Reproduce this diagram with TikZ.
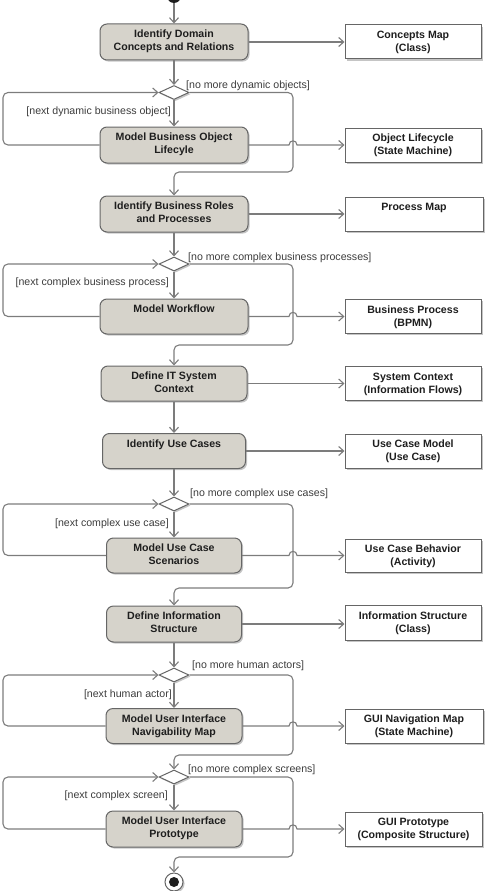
\documentclass[tikz,border=0pt]{standalone}
\usepackage{fontspec}
\setmainfont{Liberation Sans}
\usetikzlibrary{arrows.meta,shapes.geometric,shadows}
\definecolor{ln}{HTML}{7C7C7C}
\definecolor{bd}{HTML}{666666}
\definecolor{actfill}{HTML}{D6D3CB}
\definecolor{txt}{HTML}{1E1E1E}
\definecolor{gtxt}{HTML}{3C3C3C}
\newcommand{\tbox}[3]{\parbox[c][#2][t]{#1}{\centering\rule{0pt}{13.5pt}#3}}
\tikzset{
  shade1/.style={drop shadow={shadow xshift=1.6pt,shadow yshift=-1.6pt,fill=black!45,opacity=.5}},
  actbox/.style={draw=bd,line width=1pt,fill=actfill,rounded corners=7pt,inner sep=0pt,
    font=\fontsize{10.6}{13}\selectfont\bfseries,text=txt,shade1},
  artbox/.style={draw=bd,line width=1pt,fill=white,inner sep=0pt,
    font=\fontsize{10.6}{13}\selectfont\bfseries,text=txt,shade1},
  dec/.style={draw=bd,line width=1pt,fill=white,diamond,minimum width=30pt,minimum height=14pt,inner sep=0pt,shade1},
  flow/.style={draw=ln,line width=1.1pt,-{Straight Barb[length=5pt,width=9pt]}},
  loopflow/.style={flow,rounded corners=5pt},
  guardR/.style={font=\fontsize{10.6}{12}\selectfont,text=gtxt,inner sep=0pt,anchor=west},
  guardL/.style={font=\fontsize{10.6}{12}\selectfont,text=gtxt,inner sep=0pt,anchor=east},
}
\begin{document}
\begin{tikzpicture}[x=1pt,y=-1pt]
\useasboundingbox (0,0) rectangle (489,891);

% activities
\node[actbox] (b1) at (174,42) {\tbox{148pt}{36pt}{Identify Domain\\Concepts and Relations}};
\node[actbox] (b2) at (174,145) {\tbox{148pt}{36pt}{Model Business Object\\Lifecyle}};
\node[actbox] (b3) at (174,214) {\tbox{148pt}{36pt}{Identify Business Roles\\and Processes}};
\node[actbox] (b4) at (174,316.5) {\tbox{148pt}{35pt}{Model Workflow}};
\node[actbox] (b5) at (174,383.5) {\tbox{146pt}{35pt}{Define IT System\\Context}};
\node[actbox] (b6) at (174,451) {\tbox{143pt}{35pt}{Identify Use Cases}};
\node[actbox] (b7) at (174,555.5) {\tbox{135pt}{35pt}{Model Use Case\\Scenarios}};
\node[actbox] (b8) at (174,624) {\tbox{135pt}{36pt}{Define Information\\Structure}};
\node[actbox] (b9) at (174,726) {\tbox{136pt}{35pt}{Model User Interface\\Navigability Map}};
\node[actbox] (b10) at (174,829) {\tbox{136pt}{36pt}{Model User Interface\\Prototype}};

% artifacts
\node[artbox] (r1) at (413,42) {\tbox{136pt}{34pt}{Concepts Map\\(Class)}};
\node[artbox] (r2) at (413,145) {\tbox{136pt}{34pt}{Object Lifecycle\\(State Machine)}};
\node[artbox] (r3) at (414,214) {\tbox{138pt}{34pt}{Process Map}};
\node[artbox] (r4) at (413,316.5) {\tbox{136pt}{34pt}{Business Process\\(BPMN)}};
\node[artbox] (r5) at (413,383.5) {\tbox{136pt}{34pt}{System Context\\(Information Flows)}};
\node[artbox] (r6) at (413,451) {\tbox{136pt}{34pt}{Use Case Model\\(Use Case)}};
\node[artbox] (r7) at (413,555.5) {\tbox{136pt}{33pt}{Use Case Behavior\\(Activity)}};
\node[artbox] (r8) at (413,623) {\tbox{136pt}{35pt}{Information Structure\\(Class)}};
\node[artbox] (r9) at (414,726) {\tbox{138pt}{34pt}{GUI Navigation Map\\(State Machine)}};
\node[artbox] (r10) at (413.5,829) {\tbox{137pt}{34pt}{GUI Prototype\\(Composite Structure)}};

% decisions
\node[dec] (d1) at (174,92.5) {};
\node[dec] (d2) at (174,264) {};
\node[dec] (d3) at (174,504) {};
\node[dec] (d4) at (174,675) {};
\node[dec] (d5) at (174,777) {};

% initial and final
\node[circle,fill=txt,minimum size=14pt,inner sep=0pt] (init) at (174,-4) {};
\node[circle,draw=bd,line width=1pt,fill=white,minimum size=18pt,inner sep=0pt,shade1] (fin) at (174,882) {};
\node[circle,fill=txt,minimum size=10pt,inner sep=0pt] (finc) at (fin.center) {};

% guards
\node[guardR] (g1) at (186,86) {[no more dynamic objects]};
\node[guardL] (g2) at (171,112) {[next dynamic business object]};
\node[guardR] (g3) at (188,258) {[no more complex business processes]};
\node[guardL] (g4) at (169,283) {[next complex business process]};
\node[guardR] (g5) at (190,494) {[no more complex use cases]};
\node[guardL] (g6) at (169,524) {[next complex use case]};
\node[guardR] (g7) at (192,666) {[no more human actors]};
\node[guardL] (g8) at (172,695) {[next human actor]};
\node[guardR] (g9) at (188,770) {[no more complex screens]};
\node[guardL] (g10) at (168,796) {[next complex screen]};

% main flow
\draw[flow] (init) -- (b1.north);
\draw[flow] (b1.south) -- (d1.north);
\draw[flow] (d1.south) -- (b2.north);
\draw[loopflow] (b2.west) -- (3,145) -- (3,92.5) -- (d1.west);
\draw[loopflow] (d1.east) -- (293,92.5) -- (293,172) -- (174,172) -- (b3.north);

\draw[flow] (b3.south) -- (d2.north);
\draw[flow] (d2.south) -- (b4.north);
\draw[loopflow] (b4.west) -- (3,316.5) -- (3,264) -- (d2.west);
\draw[loopflow] (d2.east) -- (293,264) -- (293,345) -- (174,345) -- (b5.north);

\draw[flow] (b5.south) -- (b6.north);
\draw[flow] (b6.south) -- (d3.north);
\draw[flow] (d3.south) -- (b7.north);
\draw[loopflow] (b7.west) -- (3,555.5) -- (3,504) -- (d3.west);
\draw[loopflow] (d3.east) -- (293,504) -- (293,588) -- (174,588) -- (b8.north);

\draw[flow] (b8.south) -- (d4.north);
\draw[flow] (d4.south) -- (b9.north);
\draw[loopflow] (b9.west) -- (3,726) -- (3,675) -- (d4.west);
\draw[loopflow] (d4.east) -- (293,675) -- (293,755) -- (174,755) -- (d5.north);

\draw[flow] (d5.south) -- (b10.north);
\draw[loopflow] (b10.west) -- (3,829) -- (3,777) -- (d5.west);
\draw[loopflow] (d5.east) -- (293,777) -- (293,857) -- (174,857) -- (fin.north);

% artifact flows
\draw[flow] (b1.east) -- (r1.west);
\draw[flow] (b2.east) -- (289,145) .. controls (289,139.5) and (297,139.5) .. (297,145) -- (r2.west);
\draw[flow] (b3.east) -- (r3.west);
\draw[flow] (b4.east) -- (289,316.5) .. controls (289,311) and (297,311) .. (297,316.5) -- (r4.west);
\draw[flow] (b5.east) -- (r5.west);
\draw[flow] (b6.east) -- (r6.west);
\draw[flow] (b7.east) -- (289,555.5) .. controls (289,550) and (297,550) .. (297,555.5) -- (r7.west);
\draw[flow] (b8.east) -- (b8.east -| r8.west);
\draw[flow] (b9.east) -- (289,726) .. controls (289,720.5) and (297,720.5) .. (297,726) -- (r9.west);
\draw[flow] (b10.east) -- (289,829) .. controls (289,823.5) and (297,823.5) .. (297,829) -- (r10.west);
\end{tikzpicture}
\end{document}
